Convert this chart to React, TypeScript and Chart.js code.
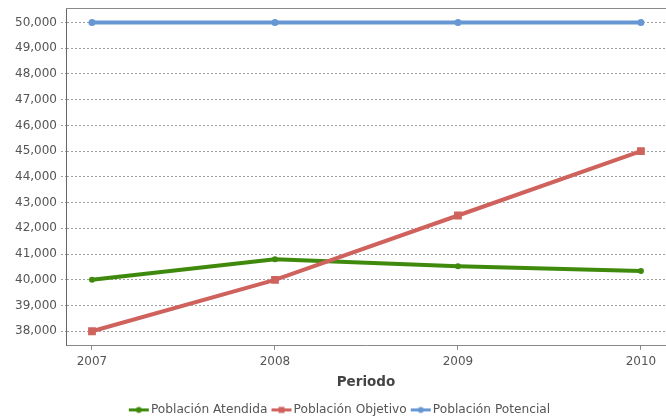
import React, { useEffect, useRef } from "react";
import { Chart, registerables } from "chart.js";

Chart.register(...registerables);

const years = [2007, 2008, 2009, 2010];
const atendida = [40000, 40800, 40530, 40340];
const objetivo = [38000, 40000, 42500, 45000];
const potencial = [50000, 50000, 50000, 50000];
const yTickValues = [38000, 39000, 40000, 41000, 42000, 43000, 44000, 45000, 46000, 47000, 48000, 49000, 50000];
const seriesNames = ["Población Atendida", "Población Objetivo", "Población Potencial"];
const axisTitle = "Periodo";

const GREEN = "#3f8a0c";
const RED = "#cf625c";
const BLUE = "#6697d3";
const FONT = "'DejaVu Sans', Verdana, sans-serif";

function legendIcon(color: string, shape: "circle" | "square"): HTMLCanvasElement {
  const c = document.createElement("canvas");
  c.width = 27;
  c.height = 9;
  const ctx = c.getContext("2d")!;
  ctx.fillStyle = color;
  ctx.fillRect(6, 3, 20, 3);
  if (shape === "circle") {
    ctx.beginPath();
    ctx.arc(16, 4.5, 3, 0, Math.PI * 2);
    ctx.fill();
  } else {
    ctx.fillRect(13, 1.5, 6, 6);
  }
  return c;
}

export default function App() {
  const ref = useRef<HTMLCanvasElement>(null);
  useEffect(() => {
    const canvas = ref.current!;
    const icons = [legendIcon(GREEN, "circle"), legendIcon(RED, "square"), legendIcon(BLUE, "circle")];
    const colors = [GREEN, RED, BLUE];
    const mk = (vals: number[]) => years.map((x, i) => ({ x, y: vals[i] }));
    const topBorder = {
      id: "topBorder",
      afterDatasetsDraw(chart: any) {
        const { ctx, chartArea } = chart;
        ctx.save();
        ctx.strokeStyle = "#8a8a8a";
        ctx.lineWidth = 1;
        ctx.beginPath();
        ctx.moveTo(chartArea.left, chartArea.top + 0.5);
        ctx.lineTo(chartArea.right, chartArea.top + 0.5);
        ctx.stroke();
        ctx.restore();
      },
    };
    const chart = new Chart(canvas, {
      type: "line",
      data: {
        datasets: [
          {
            label: seriesNames[0],
            data: mk(atendida),
            borderColor: GREEN,
            backgroundColor: GREEN,
            borderWidth: 4,
            pointStyle: "circle",
            pointRadius: 3,
            pointBorderWidth: 0,
            order: 1,
          },
          {
            label: seriesNames[1],
            data: mk(objetivo),
            borderColor: RED,
            backgroundColor: RED,
            borderWidth: 4,
            pointStyle: "rect",
            pointRadius: 5.5,
            pointBorderWidth: 0,
            order: 0,
          },
          {
            label: seriesNames[2],
            data: mk(potencial),
            borderColor: BLUE,
            backgroundColor: BLUE,
            borderWidth: 4,
            pointStyle: "circle",
            pointRadius: 3.5,
            pointBorderWidth: 0,
            order: 2,
          },
        ],
      },
      options: {
        responsive: false,
        animation: false,
        devicePixelRatio: 1,
        layout: { autoPadding: false, padding: { top: 8, right: 0, bottom: -7, left: 12 } },
        plugins: {
          tooltip: { enabled: false },
          legend: {
            position: "bottom",
            labels: {
              usePointStyle: true,
              pointStyleWidth: 17,
              boxHeight: 12,
              padding: 3,
              color: "#555555",
              font: { family: FONT, size: 12.2 },
              generateLabels: () =>
                seriesNames.map((name, i) => ({
                  text: name,
                  fillStyle: colors[i],
                  strokeStyle: colors[i],
                  lineWidth: 0,
                  pointStyle: icons[i] as any,
                  hidden: false,
                  datasetIndex: i,
                  fontColor: "#555555",
                })),
            },
          },
        },
        scales: {
          x: {
            type: "linear",
            min: 2006.858,
            max: 2010.137,
            afterBuildTicks: (scale: any) => {
              scale.ticks = years.map((v) => ({ value: v }));
            },
            afterFit: (scale: any) => {
              scale.height = 55;
              scale.paddingLeft = 0;
              scale.paddingRight = 0;
            },
            ticks: {
              color: "#555555",
              font: { family: FONT, size: 12 },
              padding: 5,
              maxRotation: 0,
              autoSkip: false,
              callback: (v: any) => String(v),
            },
            grid: {
              drawOnChartArea: false,
              drawTicks: true,
              tickLength: 4,
              color: "#888888",
            },
            border: { color: "#888888", width: 1 },
            title: {
              display: true,
              text: axisTitle,
              color: "#444444",
              font: { family: FONT, size: 13.5, weight: "bold" },
              padding: { top: 0, bottom: 10 },
            },
          },
          y: {
            type: "linear",
            min: 37435,
            max: 50565,
            afterBuildTicks: (scale: any) => {
              scale.ticks = yTickValues.map((v) => ({ value: v }));
            },
            afterFit: (scale: any) => {
              scale.width = 54;
              scale.paddingTop = 0;
              scale.paddingBottom = 0;
            },
            ticks: {
              color: "#555555",
              font: { family: FONT, size: 12 },
              padding: 4,
              callback: (v: any) => Number(v).toLocaleString("en-US"),
            },
            grid: {
              color: "#a0a0a0",
              lineWidth: 1,
              tickLength: 5,
              tickColor: "#a0a0a0",
              tickBorderDash: [2, 2],
            },
            border: { color: "#666666", width: 1, dash: [2, 2] } as any,
          },
        },
      },
      plugins: [topBorder],
    } as any);
    return () => chart.destroy();
  }, []);
  return (
    <div style={{ position: "absolute", left: 0, top: 0, width: 666, height: 419, background: "#fff" }}>
      <canvas ref={ref} width={666} height={419} style={{ display: "block" }} />
    </div>
  );
}
